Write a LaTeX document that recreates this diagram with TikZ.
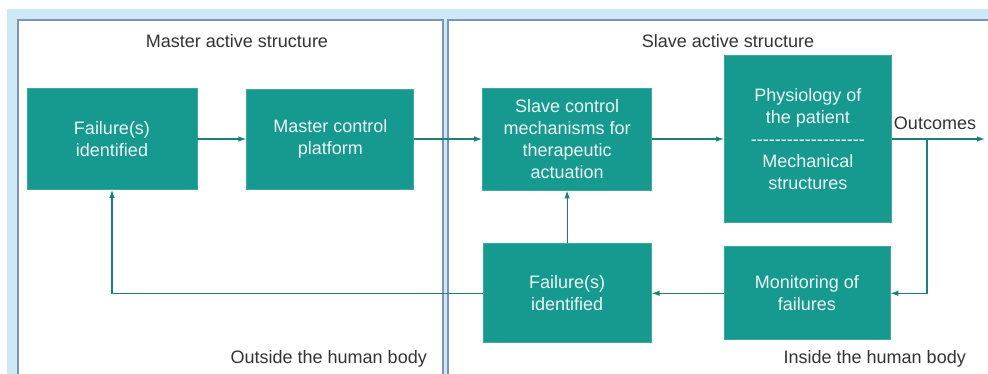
\documentclass[tikz,border=0pt]{standalone}
\usepackage{fontspec}
\setmainfont{Liberation Sans}
\usetikzlibrary{arrows.meta, positioning}

\definecolor{bgblue}{HTML}{CDE9F8}
\definecolor{panelline}{HTML}{7F93BA}
\definecolor{boxteal}{HTML}{169A8F}
\definecolor{boxedge}{HTML}{3DAAA1}
\definecolor{arrowteal}{HTML}{1C807A}
\definecolor{labelgrey}{HTML}{333333}

\newcommand{\dashrow}{\foreach \k in {1,...,19}{\mbox{-}}}

\begin{document}
\begin{tikzpicture}[x=1pt, y=-1pt, >={Latex[length=8pt,width=5.5pt]},
    box/.style={draw=boxedge, line width=0.8pt, fill=boxteal, text=white!92!boxteal,
        align=center, inner sep=2pt, font=\fontsize{18}{22}\selectfont},
    lbl/.style={text=labelgrey, inner sep=0pt, font=\fontsize{18}{22}\selectfont},
    panel/.style={draw=panelline, line width=1.4pt, fill=white},
    link/.style={->, draw=arrowteal, line width=1.2pt}]
    \useasboundingbox (0,0) rectangle (988,374);
    \clip (0,0) rectangle (988,374);

    % Background and the two structures
    \fill[bgblue] (7,9) rectangle (995,380);
    \draw[panel] (18,20) rectangle (443,385);
    \draw[panel] (448,20) rectangle (1000,385);

    \node[lbl] (mastertitle) at (237,41) {Master active structure};
    \node[lbl] (slavetitle) at (728,41) {Slave active structure};
    \node[lbl, anchor=east] (outside) at (427,359) {Outside the human body};
    \node[lbl, anchor=east] (inside) at (966,359) {Inside the human body};

    % Nodes
    \node[box, minimum width=170pt, minimum height=101pt] (fail1) at (112,139) {Failure(s)\\identified};
    \node[box, minimum width=167pt, minimum height=100pt, right=49pt of fail1] (mcp) {Master control\\platform};
    \node[box, minimum width=169pt, minimum height=102pt, right=68pt of mcp] (slave) {Slave control\\mechanisms for\\therapeutic\\actuation};
    \node[box, minimum width=167pt, minimum height=167pt, right=72pt of slave] (phys) {Physiology of\\the patient\\\dashrow\\Mechanical\\structures};
    \node[box, minimum width=168pt, minimum height=99pt, below=53pt of slave] (fail2) {Failure(s)\\identified};
    \node[box, minimum width=166pt, minimum height=93pt, right=72pt of fail2] (monit) {Monitoring of\\failures};

    \coordinate (split) at (927,139);
    \coordinate (out) at (985,139);
    \node[lbl] (outcomes) at (935,123) {Outcomes};

    % Forward chain
    \draw[link] (fail1) -- (mcp);
    \draw[link] (mcp) -- (slave);
    \draw[link] (slave) -- (phys);
    \draw[link] (phys) -- (out);

    % Feedback loop
    \draw[link] (split) |- (monit);
    \draw[link] (monit) -- (fail2);
    \draw[link] (fail2) -- (slave);
    \draw[link] (fail2) -| (fail1);
\end{tikzpicture}
\end{document}
